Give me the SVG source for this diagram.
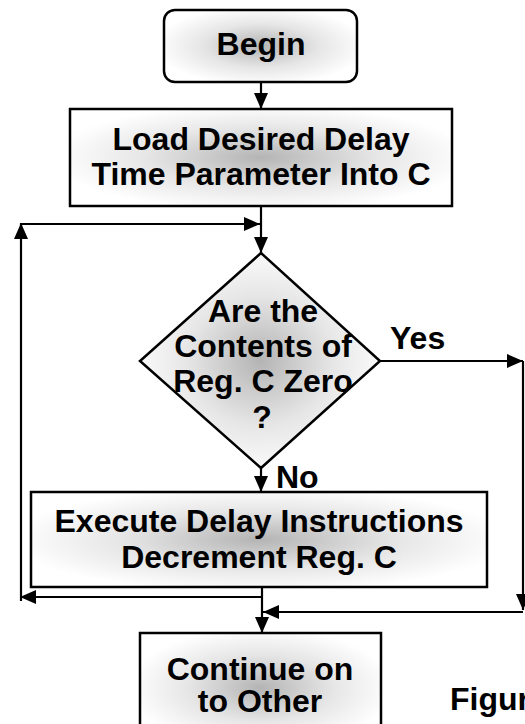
<svg xmlns="http://www.w3.org/2000/svg" width="525" height="724" viewBox="0 0 525 724">
  <style>
    .shape { stroke: #000; stroke-width: 2.5; }
    .conn { fill: none; stroke: #000; stroke-width: 2.2; marker-end: url(#arrow); }
    text { font-family: "Liberation Sans", Arial, sans-serif; font-weight: bold; font-size: 32px; fill: #000; }
    .c { text-anchor: middle; }
  </style>
  <defs>
    <radialGradient id="shade" cx="50%" cy="50%" r="55%">
      <stop offset="0" stop-color="#b4b4b4"/>
      <stop offset="0.55" stop-color="#e6e6e6"/>
      <stop offset="1" stop-color="#ffffff"/>
    </radialGradient>
    <marker id="arrow" markerUnits="userSpaceOnUse" markerWidth="16" markerHeight="14"
            viewBox="0 0 16 14" refX="16" refY="7" orient="auto">
      <path d="M0,0 L16,7 L0,14 z" fill="#000"/>
    </marker>
  </defs>

  <!-- connectors -->
  <g id="connectors">
    <line class="conn" x1="261" y1="82" x2="261" y2="109"/>
    <line class="conn" x1="261" y1="206" x2="261" y2="253"/>
    <line class="conn" x1="21" y1="224" x2="260" y2="224"/>
    <line class="conn" x1="21" y1="601" x2="21" y2="223"/>
    <line class="conn" x1="261" y1="468" x2="261" y2="492"/>
    <line class="conn" x1="380" y1="361" x2="523" y2="361"/>
    <line class="conn" x1="523" y1="361" x2="523" y2="610"/>
    <line class="conn" x1="523" y1="612" x2="263" y2="612"/>
    <line class="conn" x1="262" y1="588" x2="262" y2="633"/>
    <line class="conn" x1="262" y1="597" x2="20" y2="597"/>
  </g>

  <g id="begin">
    <rect class="shape" x="164" y="10" width="193" height="72" rx="11" fill="url(#shade)"/>
    <text class="c" x="261" y="55">Begin</text>
  </g>

  <g id="load">
    <rect class="shape" x="70" y="109" width="382" height="97" fill="url(#shade)"/>
    <text class="c" x="261" y="150">Load Desired Delay</text>
    <text class="c" x="261" y="185">Time Parameter Into C</text>
  </g>

  <g id="test">
    <polygon class="shape" points="261,253 380,361 261,468 140,361" fill="url(#shade)"/>
    <text class="c" x="263" y="322">Are the</text>
    <text class="c" x="263" y="357">Contents of</text>
    <text class="c" x="263" y="392">Reg. C Zero</text>
    <text class="c" x="262" y="428">?</text>
  </g>

  <g id="label-yes">
    <text x="390" y="349">Yes</text>
  </g>
  <g id="label-no">
    <text x="276" y="488">No</text>
  </g>

  <g id="execute">
    <rect class="shape" x="31" y="492" width="456" height="95" fill="url(#shade)"/>
    <text class="c" x="259" y="532">Execute Delay Instructions</text>
    <text class="c" x="259" y="568">Decrement Reg. C</text>
  </g>

  <g id="continue">
    <rect class="shape" x="140" y="633" width="241" height="110" fill="url(#shade)"/>
    <text class="c" x="260" y="680">Continue on</text>
    <text class="c" x="260" y="712">to Other</text>
  </g>

  <g id="caption">
    <text x="450" y="710">Figur</text>
  </g>
</svg>
